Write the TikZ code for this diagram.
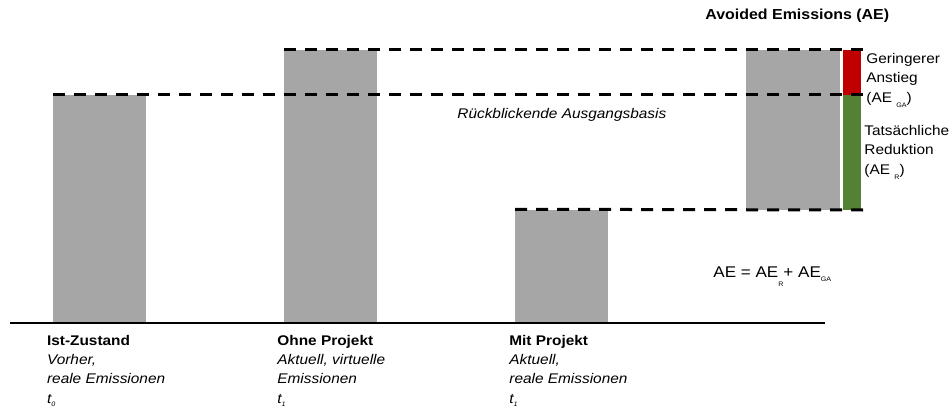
\documentclass[tikz,border=0pt]{standalone}
\usepackage{fontspec}
\setmainfont{Liberation Sans}[FakeStretch=1.1]
\usetikzlibrary{calc}
\tikzset{every picture/.style={line width=0.75pt}}
\definecolor{barGray}{RGB}{166,166,166}
\definecolor{gaRed}{RGB}{192,0,0}
\definecolor{rGreen}{RGB}{84,130,53}
\newcommand{\subtxt}[2][5pt]{\raisebox{-#1}{\fontsize{6.5}{6.5}\selectfont #2}}

\begin{document}
\begin{tikzpicture}[x=1pt,y=1pt,yscale=-1,xscale=1,
  bar/.style={rectangle, draw=none, fill=barGray, inner sep=0pt, anchor=south west},
  levelline/.style={line width=3pt, dash pattern=on 12pt off 9pt},
  txt/.style={anchor=base west, inner sep=0pt, align=left, font=\fontsize{14}{19.3}\selectfont}]
\useasboundingbox (0,0) rectangle (952,412);

%Shape: Rectangle [bars]
\node[bar, minimum width=93, minimum height=227.5] (ist) at (53,323) {};
\node[bar, minimum width=93, minimum height=272.3] (ohne) at (284,323) {};
\node[bar, minimum width=93, minimum height=113] (mit) at (515,323) {};
\node[bar, minimum width=94, minimum height=159.3] (ae) at (746,210) {};
%Shape: Rectangle [avoided parts]
\node[bar, fill=gaRed, minimum width=18, minimum height=44.8] (ga) at (843,95.5) {};
\node[bar, fill=rGreen, minimum width=18, minimum height=114.5] (red) at (843,210) {};

%Straight Lines [levels]
\draw[levelline] (ohne.north west) -- ([xshift=2pt]ga.north east);
\draw[levelline] (ist.north west) -- ([xshift=2pt]red.north east);
\draw[levelline] (mit.north west) -- ([xshift=2pt]red.south east);
%Straight Lines [axis]
\coordinate (axisL) at (10,323);
\coordinate (axisR) at (825,323);
\draw[line width=1.5pt] (axisL) -- (axisR);

% Text Node (last line sets the base)
\node[txt, font=\fontsize{14.5}{16}\selectfont\bfseries] (title) at (705,20) {Avoided Emissions (AE)};
% Text Node
\node[txt] (galbl) at (866,102) {Geringerer\\Anstieg\\(AE \subtxt{GA})};
% Text Node
\node[txt] (rlbl) at (864,174) {Tatsächliche\\Reduktion\\(AE \subtxt{R})};
% Text Node
\node[txt, font=\fontsize{14}{19}\selectfont\itshape] (basis) at (457,118) {Rückblickende Ausgangsbasis};
% Text Node
\node[txt, font=\fontsize{15.5}{16}\selectfont] (formula) at (713,277) {AE = AE\subtxt[9pt]{R}+ AE\subtxt[4pt]{GA}};
% Text Node
\node[txt] (istlbl) at (46.7,403) {\textbf{Ist-Zustand}\\\textit{Vorher,}\\\textit{reale Emissionen}\\\textit{t\subtxt[3pt]{0}}};
% Text Node
\node[txt] (ohnelbl) at (277,403) {\textbf{Ohne Projekt}\\\textit{Aktuell, virtuelle}\\\textit{Emissionen}\\\textit{t\subtxt[3pt]{1}}};
% Text Node
\node[txt] (mitlbl) at (509,403) {\textbf{Mit Projekt}\\\textit{Aktuell,}\\\textit{reale Emissionen}\\\textit{t\subtxt[3pt]{1}}};

\end{tikzpicture}
\end{document}
